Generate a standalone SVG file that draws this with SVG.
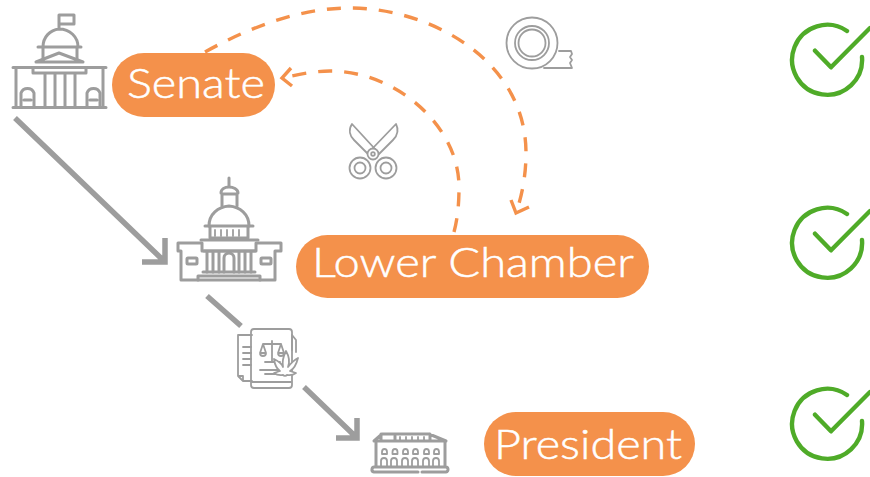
<svg xmlns="http://www.w3.org/2000/svg" width="870" height="477" viewBox="0 0 870 477">
<defs><style>
.pill{fill:#f4914b}
.lbl{font-family:"Lato","Liberation Sans",sans-serif;font-size:41px;fill:#fff;font-weight:300;stroke:#fff;stroke-width:.5}
.ic{fill:none;stroke:#9d9d9d;stroke-width:3;stroke-linecap:round;stroke-linejoin:round}
.th{stroke-width:1.8}
.arr{fill:none;stroke:#9d9d9d;stroke-width:5.500}
.dash{fill:none;stroke:#f4914b;stroke-width:3.400;stroke-dasharray:14 12}
.head{fill:none;stroke:#f4914b;stroke-width:3.400}
.chk{fill:none;stroke:#4fab28;stroke-width:4.400;stroke-linecap:round;stroke-linejoin:round}
</style>
<g id="tick"><path class="chk" d="M847 31A35 35 0 1 0 862 57M815 50.700L831 67.300L870 28"/></g></defs>
<rect width="870" height="477" fill="#fff"/>
<g id="connectors">
<path class="arr" d="M15 118L164 261M142 262H165V238"/>
<path class="arr" d="M207 296L241 326M304 387L356 437M336 438H357V418"/>
<path class="dash" d="M205 52C250 27 300 8 350 8C430 8 526 60 526 153C526 175 522 195 517 210"/>
<path class="head" d="M511 200L516 213L529 207"/>
<path class="dash" d="M454 232C458 217 459 202 459 187C459 125 395 71 330 71C315 71 300 74 287 77"/>
<path class="head" d="M291 68L282 78L292 86"/>
</g>
<g id="senate-icon" class="ic">
<path d="M13 67.500H106M13 107.500H106M16 68V107M103 68V107"/>
<path d="M33 67.500V73H86V67.500M36 62L59 53L83 62M36 62H83"/>
<path d="M38 47H81M43 47V60M77 47V60M43 47C43 37 50 30 59 29C70 29 78 37 78 47M59 28V15M59 15H74V24H59"/>
<path d="M45 74V107M55 74V107M65 74V107M75 74V107"/>
<path d="M21 107V93A7 7 0 0 1 34 93V107M87 107V93A7 7 0 0 1 100 93V107M24 100H31M90 100H97"/>
</g>
<g id="senate"><rect class="pill" x="112" y="53" width="163" height="64" rx="32"/><text class="lbl" x="127" y="98" textLength="138" lengthAdjust="spacingAndGlyphs">Senate</text></g>
<g id="lower-icon" class="ic">
<path d="M178 243H202V251H256V243H281V251H275V280H181V251H178Z"/>
<path d="M201 240H258M204 251H255"/>
<path d="M205 226H253M210 226V238H248V226"/>
<path d="M209 226C209 214 218 207 229 206C240 207 249 214 249 226"/>
<path d="M222 206V194H237V206M229 187V178M221 193C221 189 225 187 229 187C233 187 238 189 238 193"/>
<path class="th" d="M215 230V236M221 230V236M227 230V236M233 230V236M239 230V236"/>
<path d="M207 252V272M213 252V272M219 252V272M239 252V272M245 252V272M251 252V272M224 272V258A5 5 0 0 1 234 258V272"/>
<path d="M203 272H255M198 280V276H260V280"/>
<rect x="187" y="258" width="10" height="6" rx="1"/><rect x="261" y="258" width="10" height="6" rx="1"/>
</g>
<g id="lower-chamber"><rect class="pill" x="296" y="235" width="353" height="63" rx="31.500"/><text class="lbl" x="312" y="277" textLength="322" lengthAdjust="spacingAndGlyphs">Lower Chamber</text></g>
<g id="law-icon" class="ic th">
<path d="M252 335H238V376L243 381H252M243 381V376H238"/>
<path d="M292 335V350M292 335L296 340V352"/>
<rect x="251" y="329" width="41" height="59" rx="3"/>
<path d="M252 382H291M243 347H251M243 353H251M243 359H251M243 365H251"/>
<path d="M272 341V362M263 344H281M263 344L260 353H266ZM281 344L278 353H284ZM260 353A3 3 0 0 0 266 353M278 353A3 3 0 0 0 284 353M265 362H280M260 370H280M265 374H278"/>
<path d="M286 351C290 358 290 362 288 367C292 362 294 360 298 358C296 366 294 369 290 371L296 373C292 376 289 375 287 375C286 376 284 376 283 375C281 375 278 376 274 373L280 371C277 369 275 366 274 359C278 361 282 364 283 367C282 362 283 357 286 351Z" fill="#fff"/>
</g>
<g id="president-icon" class="ic">
<path d="M374 441L382 434H429L446 441M374 441H446M381 434V441M395 436V441M430 434V441"/>
<path class="th" d="M400 437V440M406 437V440M412 437V440M418 437V440M424 437V440"/>
<path d="M376 442V466M445 442V466M374 472H418M422 472H446M374 472A2.500 2.500 0 0 1 375 467H445A2.500 2.500 0 0 1 446 472"/>
<path class="th" d="M382 452a2.500 3 0 0 1 5 0v2h-5zM392.500 452a2.500 3 0 0 1 5 0v2h-5zM403 452a2.500 3 0 0 1 5 0v2h-5zM413 452a2.500 3 0 0 1 5 0v2h-5zM424 452a2.500 3 0 0 1 5 0v2h-5zM434 452a2.500 3 0 0 1 5 0v2h-5z"/>
<path class="th" d="M381 466V461a3 3 0 0 1 6 0V466M391 466V461a3 3 0 0 1 6 0V466M402 466V461a3 3 0 0 1 6 0V466M412 466V461a3 3 0 0 1 6 0V466M423 466V461a3 3 0 0 1 6 0V466M433 466V461a3 3 0 0 1 6 0V466"/>
</g>
<g id="president"><rect class="pill" x="484" y="412" width="211" height="64" rx="32"/><text class="lbl" x="494" y="459" textLength="188" lengthAdjust="spacingAndGlyphs">President</text></g>
<g id="tape-icon" class="ic th">
<circle cx="532" cy="43" r="25.500"/><circle cx="532" cy="43" r="17"/><circle cx="532" cy="43" r="13.500"/>
<path d="M559 51H571L572 54L570 57L572 60L570 63L572 68H544"/>
</g>
<g id="scissors-icon" class="ic th">
<path d="M352 124C348 130 350 136 354 140L370 156L375 149ZM396 124C399 130 397 136 393 140L377 156L372 149Z" fill="#fff"/>
<circle cx="373" cy="154" r="5.500" fill="#fff"/><circle cx="373" cy="154" r="1.800"/>
<circle cx="360" cy="168" r="10.500"/><circle cx="360" cy="168" r="5.500"/><circle cx="386" cy="168" r="10.500"/><circle cx="386" cy="168" r="5.500"/>
</g>
<g id="check-1"><use href="#tick"/></g>
<g id="check-2"><use href="#tick" y="183"/></g>
<g id="check-3"><use href="#tick" y="364"/></g>
</svg>
